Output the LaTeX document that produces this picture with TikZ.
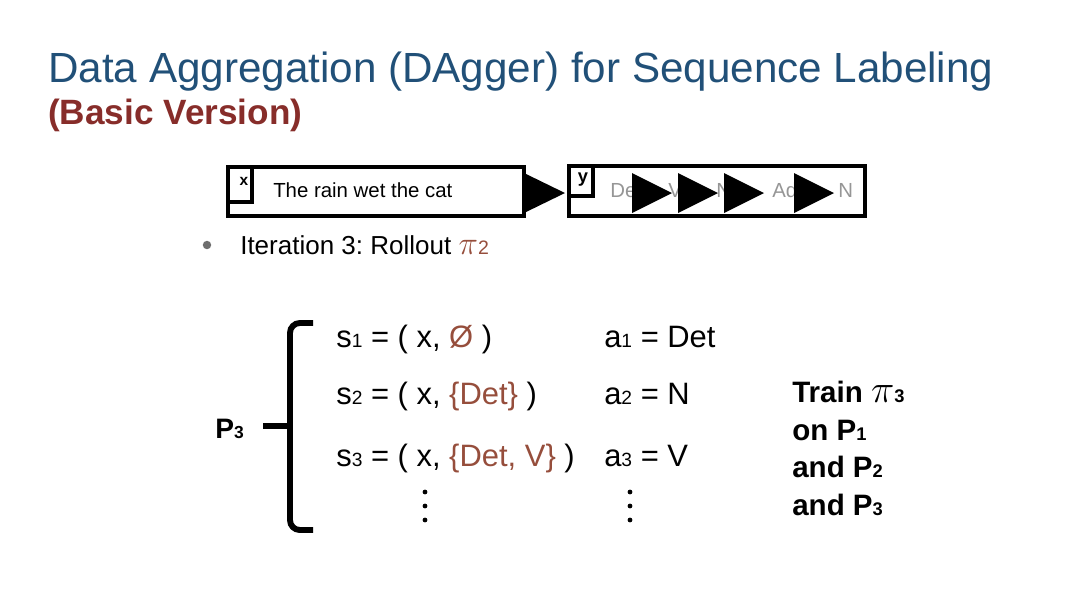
\documentclass[tikz,border=0pt]{standalone}
\usepackage{fontspec}
\setmainfont{Liberation Sans}
\usepackage{graphicx}
\usetikzlibrary{positioning}
\definecolor{titleblue}{RGB}{33,80,120}
\definecolor{brick}{RGB}{135,45,42}
\definecolor{rust}{RGB}{150,78,60}
\definecolor{labgray}{RGB}{150,150,150}
\definecolor{bulgray}{RGB}{110,110,110}
\newcommand{\idx}[1]{\scalebox{0.62}{#1}}
\newcommand{\bigpi}{\scalebox{1.35}{\(\pi\)}}
\frenchspacing

\begin{document}
\begin{tikzpicture}[x=0.025cm,y=-0.025cm,
  boxline/.style={line width=3.2pt},
  tag/.style={inner sep=0pt, font=\fontsize{11}{11}\selectfont\bfseries},
  lab/.style={anchor=base west, inner sep=0pt, font=\fontsize{14.5}{14.5}\selectfont},
  row/.style={anchor=base west, inner sep=0pt, font=\fontsize{22}{22}\selectfont},
  trainline/.style={anchor=base west, inner sep=0pt, font=\fontsize{21}{21}\selectfont\bfseries}]
   \useasboundingbox (0,0) rectangle (1080,608);
   \node[anchor=base west, inner sep=0pt, text=titleblue, font=\fontsize{30}{30}\selectfont] (title) at (48,82) {Data Aggregation (DAgger) for Sequence Labeling};
   \node[anchor=base west, inner sep=0pt, text=brick, font=\fontsize{25}{25}\selectfont\bfseries] (sub) at (48,124) {(Basic Version)};

   \draw[boxline] (228,167) rectangle (524,216);
   \draw[boxline] (228,167) -- (228,202) -- (252,202) -- (252,167);
   \node[tag] (xtag) at (244,181) {x};
   \node[lab] (sent) at (273,197) {The rain wet the cat};
   \fill (524,173) -- (565,193) -- (524,213) -- cycle;

   \draw[boxline] (569,166) rectangle (865,216);
   \draw[boxline] (569,166) -- (569,196) -- (593,196) -- (593,166);
   \node[tag, font=\fontsize{13}{13}\selectfont\bfseries] (ytag) at (583,180) {y};
   \node[lab, text=labgray] (t1) at (610,197) {Det};
   \node[lab, text=labgray] (t2) at (668,197) {V};
   \node[lab, text=labgray] (t3) at (716,197) {N};
   \node[lab, text=labgray] (t4) at (772,197) {Adj};
   \node[lab, text=labgray] (t5) at (838,197) {N};
   \foreach \xs in {632,678,724,794} {\fill (\xs,173) -- (\xs+40,193) -- (\xs,213) -- cycle;}

   \node[circle, fill=bulgray, inner sep=0pt, minimum size=6pt] (bul) at (207,245) {};
   \node[anchor=base west, inner sep=0pt, font=\fontsize{18.5}{18.5}\selectfont] (iter) at (240,254) {Iteration 3: Rollout \textcolor{rust}{\bigpi\scalebox{0.75}{2}}};

   \draw[line width=4.2pt, rounded corners=7pt] (313,323) -| (290,530) -- (313,530);
   \draw[line width=4.2pt] (263,426) -- (290,426);
   \node[trainline, font=\fontsize{20}{20}\selectfont\bfseries] (p3) at (215,438) {P\idx{3}};

   \node[row] (s1) at (336,347) {s\idx{1} = ( x, \textcolor{rust}{Ø} )};
   \node[row] (s2) at (336,404) {s\idx{2} = ( x, \textcolor{rust}{\{Det\}} )};
   \node[row] (s3) at (336,466) {s\idx{3} = ( x, \textcolor{rust}{\{Det, V\}} )};
   \node[row] (a1) at (604,347) {a\idx{1} = Det};
   \node[row] (a2) at (604,404) {a\idx{2} = N};
   \node[row] (a3) at (604,466) {a\idx{3} = V};
   \foreach \dy in {492,506,520} {\fill (425,\dy) circle[radius=1.7pt]; \fill (630,\dy) circle[radius=1.7pt];}

   \node[trainline] (train) at (792,402) {Train \bigpi\idx{3}};
   \node[trainline] (on) at (792,440) {on P\idx{1}};
   \node[trainline] (and2) at (792,477) {and P\idx{2}};
   \node[trainline] (and3) at (792,515) {and P\idx{3}};
\end{tikzpicture}
\end{document}
